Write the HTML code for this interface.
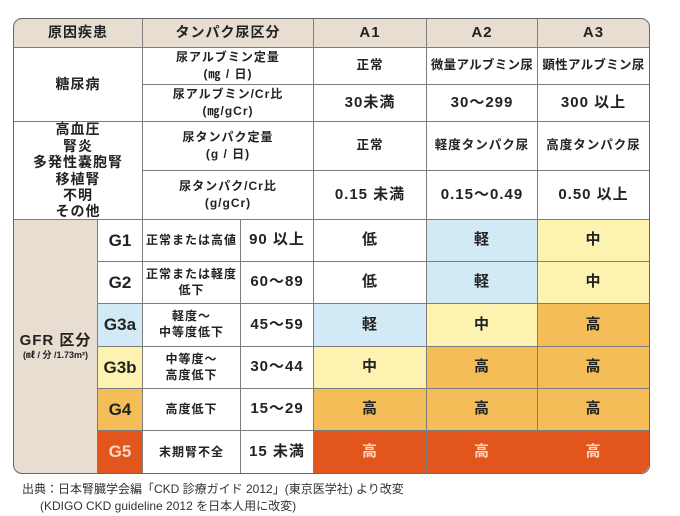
<!DOCTYPE html>
<html><head><meta charset="utf-8"><style>
body{margin:0;width:680px;height:516px;background:#fff;font-family:"Liberation Sans","Noto Sans CJK JP",sans-serif;color:#222;position:relative;overflow:hidden}
#t{position:absolute;left:14px;top:19px;width:635px;height:454px;background:#7d7d7d;border-radius:9px;overflow:hidden}
#o{position:absolute;left:13px;top:18px;width:635px;height:454px;border:1.5px solid #666;border-radius:9px}
.c{position:absolute;background:#fff;display:flex;align-items:center;justify-content:center;text-align:center;font-weight:bold;font-size:14px;letter-spacing:1px;line-height:1.25}
.h{background:#e7ded1}
.s{font-size:12px;line-height:1.4}
.n{font-size:15px;letter-spacing:1px}
.g{font-size:17px;letter-spacing:0}
.r{font-size:15px}
.B{background:#d2e9f6}.Y{background:#fdf2b0}.O{background:#f4bd57}.R{background:#e2561d;color:#f6d8c8}
.f{position:absolute;font-size:12px;color:#333}
</style></head><body>
<div id="t">
<div class="c h" style="left:0;top:0;width:128px;height:28px">原因疾患</div>
<div class="c h" style="left:129px;top:0;width:170px;height:28px">タンパク尿区分</div>
<div class="c h n" style="left:300px;top:0;width:112px;height:28px">A1</div>
<div class="c h n" style="left:413px;top:0;width:110px;height:28px">A2</div>
<div class="c h n" style="left:524px;top:0;width:111px;height:28px">A3</div>

<div class="c" style="left:0;top:29px;width:128px;height:73px">糖尿病</div>
<div class="c s" style="left:129px;top:29px;width:170px;height:36px">尿アルブミン定量<br>(㎎ / 日)</div>
<div class="c s" style="left:129px;top:66px;width:170px;height:36px">尿アルブミン/Cr比<br>(㎎/gCr)</div>
<div class="c s" style="left:300px;top:29px;width:112px;height:36px;font-size:12.5px">正常</div>
<div class="c s" style="left:413px;top:29px;width:110px;height:36px;font-size:12.5px;letter-spacing:0.3px">微量アルブミン尿</div>
<div class="c s" style="left:524px;top:29px;width:111px;height:36px;font-size:12.5px;letter-spacing:0.3px">顕性アルブミン尿</div>
<div class="c n" style="left:300px;top:66px;width:112px;height:36px">30未満</div>
<div class="c n" style="left:413px;top:66px;width:110px;height:36px">30〜299</div>
<div class="c n" style="left:524px;top:66px;width:111px;height:36px">300 以上</div>

<div class="c" style="left:0;top:103px;width:128px;height:97px;line-height:1.17">高血圧<br>腎炎<br>多発性嚢胞腎<br>移植腎<br>不明<br>その他</div>
<div class="c s" style="left:129px;top:103px;width:170px;height:48px">尿タンパク定量<br>(g / 日)</div>
<div class="c s" style="left:129px;top:152px;width:170px;height:48px">尿タンパク/Cr比<br>(g/gCr)</div>
<div class="c s" style="left:300px;top:103px;width:112px;height:48px;font-size:12.5px">正常</div>
<div class="c s" style="left:413px;top:103px;width:110px;height:48px;font-size:12.5px">軽度タンパク尿</div>
<div class="c s" style="left:524px;top:103px;width:111px;height:48px;font-size:12.5px">高度タンパク尿</div>
<div class="c n" style="left:300px;top:152px;width:112px;height:48px">0.15 未満</div>
<div class="c n" style="left:413px;top:152px;width:110px;height:48px">0.15〜0.49</div>
<div class="c n" style="left:524px;top:152px;width:111px;height:48px">0.50 以上</div>

<div class="c h" style="left:0;top:201px;width:83px;height:253px;flex-direction:column"><span style="font-size:15px">GFR 区分</span><span style="font-size:9px;letter-spacing:0">(㎖ / 分 /1.73m²)</span></div>

<div class="c g" style="left:84px;top:201px;width:44px;height:41px">G1</div>
<div class="c s" style="left:129px;top:201px;width:97px;height:41px">正常または高値</div>
<div class="c n" style="left:227px;top:201px;width:72px;height:41px">90 以上</div>
<div class="c r" style="left:300px;top:201px;width:112px;height:41px">低</div>
<div class="c r B" style="left:413px;top:201px;width:110px;height:41px">軽</div>
<div class="c r Y" style="left:524px;top:201px;width:111px;height:41px">中</div>

<div class="c g" style="left:84px;top:243px;width:44px;height:41px">G2</div>
<div class="c s" style="left:129px;top:243px;width:97px;height:41px;line-height:1.3">正常または軽度<br>低下</div>
<div class="c n" style="left:227px;top:243px;width:72px;height:41px">60〜89</div>
<div class="c r" style="left:300px;top:243px;width:112px;height:41px">低</div>
<div class="c r B" style="left:413px;top:243px;width:110px;height:41px">軽</div>
<div class="c r Y" style="left:524px;top:243px;width:111px;height:41px">中</div>

<div class="c g B" style="left:84px;top:285px;width:44px;height:42px">G3a</div>
<div class="c s" style="left:129px;top:285px;width:97px;height:42px;line-height:1.3">軽度〜<br>中等度低下</div>
<div class="c n" style="left:227px;top:285px;width:72px;height:42px">45〜59</div>
<div class="c r B" style="left:300px;top:285px;width:112px;height:42px">軽</div>
<div class="c r Y" style="left:413px;top:285px;width:110px;height:42px">中</div>
<div class="c r O" style="left:524px;top:285px;width:111px;height:42px">高</div>

<div class="c g Y" style="left:84px;top:328px;width:44px;height:41px">G3b</div>
<div class="c s" style="left:129px;top:328px;width:97px;height:41px;line-height:1.3">中等度〜<br>高度低下</div>
<div class="c n" style="left:227px;top:328px;width:72px;height:41px">30〜44</div>
<div class="c r Y" style="left:300px;top:328px;width:112px;height:41px">中</div>
<div class="c r O" style="left:413px;top:328px;width:110px;height:41px">高</div>
<div class="c r O" style="left:524px;top:328px;width:111px;height:41px">高</div>

<div class="c g O" style="left:84px;top:370px;width:44px;height:41px">G4</div>
<div class="c s" style="left:129px;top:370px;width:97px;height:41px">高度低下</div>
<div class="c n" style="left:227px;top:370px;width:72px;height:41px">15〜29</div>
<div class="c r O" style="left:300px;top:370px;width:112px;height:41px">高</div>
<div class="c r O" style="left:413px;top:370px;width:110px;height:41px">高</div>
<div class="c r O" style="left:524px;top:370px;width:111px;height:41px">高</div>

<div class="c g R" style="left:84px;top:412px;width:44px;height:42px">G5</div>
<div class="c s" style="left:129px;top:412px;width:97px;height:42px">末期腎不全</div>
<div class="c n" style="left:227px;top:412px;width:72px;height:42px">15 未満</div>
<div class="c r R" style="left:300px;top:412px;width:112px;height:42px">高</div>
<div class="c r R" style="left:413px;top:412px;width:110px;height:42px">高</div>
<div class="c r R" style="left:524px;top:412px;width:111px;height:42px">高</div>
</div>
<div id="o"></div>
<div class="f" style="left:22px;top:480px">出典：日本腎臓学会編「CKD 診療ガイド 2012」(東京医学社) より改変</div>
<div class="f" style="left:40px;top:497px">(KDIGO CKD guideline 2012 を日本人用に改変)</div>
</body></html>
